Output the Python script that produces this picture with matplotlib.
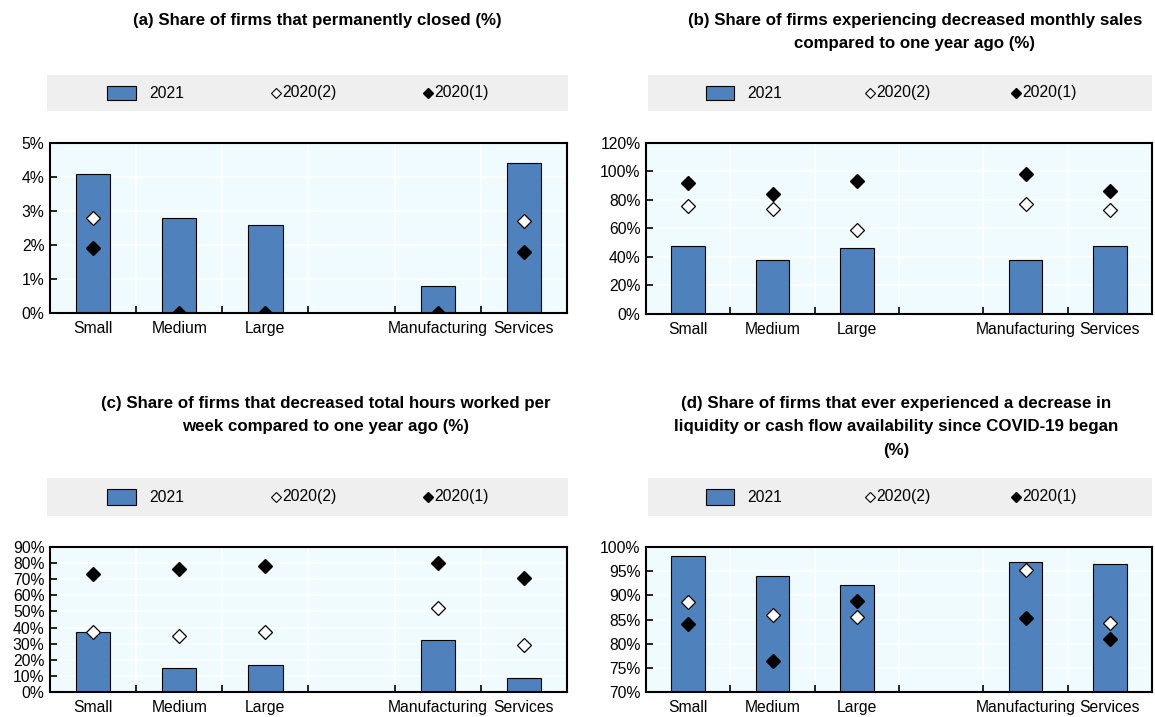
import numpy as np
import matplotlib
matplotlib.use("Agg")
import matplotlib.pyplot as plt
from matplotlib.patches import Rectangle
from matplotlib.ticker import FuncFormatter, MultipleLocator, FixedLocator

plt.rcParams['font.family'] = ['Liberation Sans', 'DejaVu Sans']

categories = ['Small', 'Medium', 'Large', '', 'Manufacturing', 'Services']
nan = np.nan

# (a) permanently closed
closed_2021 = [4.1, 2.8, 2.6, nan, 0.8, 4.4]
closed_2020_2 = [2.8, nan, nan, nan, nan, 2.7]
closed_2020_1 = [1.9, 0.0, 0.0, nan, 0.0, 1.8]

# (b) decreased monthly sales
sales_2021 = [47.5, 38, 46, nan, 38, 48]
sales_2020_2 = [76, 74, 59, nan, 77, 73]
sales_2020_1 = [92, 84, 93, nan, 98, 86]

# (c) decreased hours worked
hours_2021 = [37, 15, 17, nan, 32, 8.5]
hours_2020_2 = [37.5, 34.5, 37, nan, 52, 29]
hours_2020_1 = [73, 76.5, 78.5, nan, 80, 71]

# (d) decrease in liquidity
liquid_2021 = [98.2, 93.9, 92.1, nan, 96.8, 96.4]
liquid_2020_2 = [88.6, 86.0, 85.6, nan, 95.3, 84.2]
liquid_2020_1 = [84.0, 76.5, 88.8, nan, 85.3, 81.0]

titles = [
    "(a) Share of firms that permanently closed (%)",
    "(b) Share of firms experiencing decreased monthly sales\ncompared to one year ago (%)",
    "(c) Share of firms that decreased total hours worked per\nweek compared to one year ago (%)",
    "(d) Share of firms that ever experienced a decrease in\nliquidity or cash flow availability since COVID-19 began\n(%)",
]
series_names = ['2021', '2020(2)', '2020(1)']

BLUE = '#4F81BD'
BG = '#EFFBFE'
W, H = 1155, 717
FS = 11.3

fig = plt.figure(figsize=(W / 100, H / 100), dpi=100)


def box(x0, x1, y0, y1):
    # pixel box -> figure fraction rect
    return [x0 / W, 1 - y1 / H, (x1 - x0) / W, (y1 - y0) / H]


panels = [
    dict(data=(closed_2021, closed_2020_2, closed_2020_1), ax=box(50, 567, 143, 313),
         leg=box(47, 568, 75, 111), ylim=(0, 5), step=1, title=(317, 13)),
    dict(data=(sales_2021, sales_2020_2, sales_2020_1), ax=box(646, 1152, 143, 314),
         leg=box(648, 1152, 75, 111), ylim=(0, 120), step=20, title=(915, 13)),
    dict(data=(hours_2021, hours_2020_2, hours_2020_1), ax=box(50, 567, 547, 692),
         leg=box(47, 568, 478, 516), ylim=(0, 90), step=10, title=(326, 396)),
    dict(data=(liquid_2021, liquid_2020_2, liquid_2020_1), ax=box(646, 1152, 547, 692),
         leg=box(648, 1152, 478, 516), ylim=(70, 100), step=5, title=(896, 396)),
]

x = np.arange(len(categories))

for p, title in zip(panels, titles):
    bars, s2, s1 = p['data']
    ax = fig.add_axes(p['ax'])
    ax.set_facecolor(BG)
    ax.bar(x, bars, width=0.4, color=BLUE, edgecolor='black', linewidth=0.8, zorder=2)
    ax.plot(x, s2, linestyle='none', marker='D', ms=7.5, mfc='white', mec='black', mew=0.9, zorder=3)
    ax.plot(x, s1, linestyle='none', marker='D', ms=7.5, mfc='black', mec='black', zorder=3)

    ax.set_xlim(-0.5, len(categories) - 0.5)
    ax.set_ylim(*p['ylim'])
    ax.yaxis.set_major_locator(MultipleLocator(p['step']))
    ax.yaxis.set_major_formatter(FuncFormatter(lambda v, pos: f"{v:.0f}%"))
    ax.set_xticks(x)
    ax.set_xticklabels(categories)
    ax.xaxis.set_minor_locator(FixedLocator(np.arange(0.5, len(categories) - 1, 1)))
    ax.tick_params(axis='x', which='major', length=0, labelsize=FS, pad=6)
    ax.tick_params(axis='x', which='minor', direction='in', length=5, width=1.2)
    ax.tick_params(axis='y', direction='in', length=5, width=1.2, labelsize=FS, pad=4)

    ax.grid(axis='y', color='white', linewidth=1.2, zorder=0)
    ax.grid(axis='x', which='minor', color='white', linewidth=1.2, zorder=0)
    ax.set_axisbelow(True)
    for s in ax.spines.values():
        s.set_linewidth(1.5)
        s.set_color('black')

    # legend strip
    lg = fig.add_axes(p['leg'])
    lg.set_facecolor('#EFEFEF')
    lg.set_xlim(0, 1)
    lg.set_ylim(0, 1)
    lg.set_xticks([])
    lg.set_yticks([])
    for s in lg.spines.values():
        s.set_visible(False)
    lg.add_patch(Rectangle((0.115, 0.3), 0.056, 0.4, facecolor=BLUE, edgecolor='black', linewidth=0.8))
    lg.text(0.197, 0.5, series_names[0], va='center', fontsize=FS)
    lg.plot([0.44], [0.5], marker='D', ms=5.5, mfc='white', mec='black', mew=0.8)
    lg.text(0.452, 0.5, series_names[1], va='center', fontsize=FS)
    lg.plot([0.731], [0.5], marker='D', ms=5.5, mfc='black', mec='black')
    lg.text(0.743, 0.5, series_names[2], va='center', fontsize=FS)

    tx, ty = p['title']
    fig.text(tx / W, 1 - ty / H, title, ha='center', va='top', fontsize=12.2,
             fontweight='bold', linespacing=1.7)

fig.savefig('out.png', dpi=100)
